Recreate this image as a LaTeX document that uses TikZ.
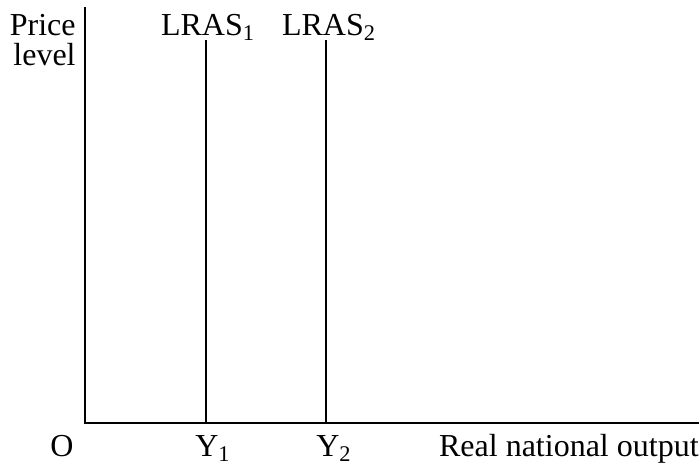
\documentclass[tikz,border=0pt]{standalone}
\usepackage{fontspec}
\setmainfont{Liberation Serif}
\usetikzlibrary{positioning}

\begin{document}
\begin{tikzpicture}[
      x=0.5pt, y=-0.5pt,
      font=\fontsize{16}{19}\selectfont,
      axis/.style={line width=0.75pt, draw=black},
      supply/.style={line width=0.75pt, draw=black},
      lab/.style={inner sep=0pt, text=black}
    ]
    \useasboundingbox (0,0) rectangle (700,463);
    % axes
    \coordinate (orig) at (85,423);
    \coordinate (ytop) at (85,7);
    \coordinate (xend) at (699,423);
    \draw[axis] (ytop) -- (orig) -- (xend);
    \node[lab, anchor=base east] (price) at (76,35) {Price};
    \node[lab, anchor=base east] (level) at (76,65) {level};
    \node[lab, anchor=base] (o) at (62,456) {O};
    \node[lab, anchor=base east] (output) at (699,456) {Real national output};

    % long-run supply curves
    \coordinate (s1top) at (206,40);
    \coordinate (s1bot) at (206,423);
    \coordinate (s2top) at (326,40);
    \coordinate (s2bot) at (326,423);
    \draw[supply] (s1top) -- (s1bot);
    \draw[supply] (s2top) -- (s2bot);
    \node[lab, anchor=base] (lras1) at (208,35) {LRAS\textsubscript{1}};
    \node[lab, anchor=base] (lras2) at (329,35) {LRAS\textsubscript{2}};
    \node[lab, anchor=base] (y1) at (213,456) {Y\textsubscript{1}};
    \node[lab, anchor=base] (y2) at (334,456) {Y\textsubscript{2}};
  \end{tikzpicture}
\end{document}
